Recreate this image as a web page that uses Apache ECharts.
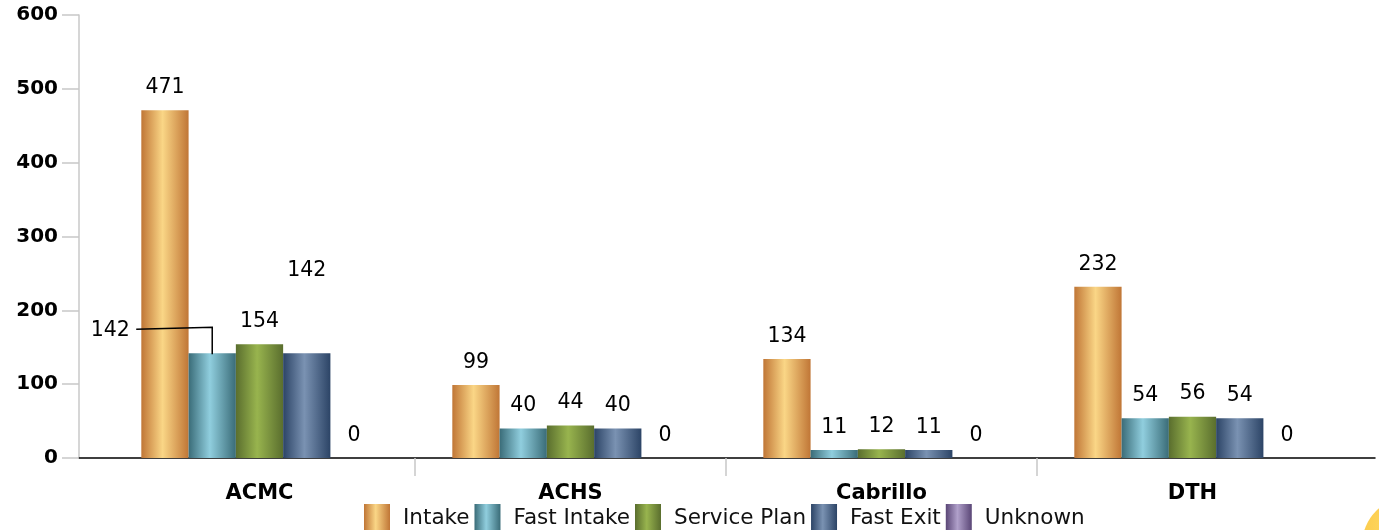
<!DOCTYPE html>
<html>
<head>
<meta charset="utf-8">
<script src="https://cdn.jsdelivr.net/npm/echarts@6/dist/echarts.min.js"></script>
<style>html,body{margin:0;padding:0;background:#fff;}#c{width:1379px;height:530px;}</style>
</head>
<body>
<div id="c"></div>
<script>
var categories = ['ACMC', 'ACHS', 'Cabrillo', 'DTH'];
var seriesNames = ['Intake', 'Fast Intake', 'Service Plan', 'Fast Exit', 'Unknown'];
var intake = [471, 99, 134, 232];
var fastIntake = [142, 40, 11, 54];
var servicePlan = [154, 44, 12, 56];
var fastExit = [142, 40, 11, 54];
var unknown = [0, 0, 0, 0];
var yTicks = [0, 100, 200, 300, 400, 500, 600];

function grad(edge, mid) {
  return new echarts.graphic.LinearGradient(0, 0, 1, 0, [
    {offset: 0, color: edge},
    {offset: 0.45, color: mid},
    {offset: 1, color: edge}
  ]);
}
var colors = [
  grad('#c07636', '#fad686'),
  grad('#3a6c78', '#90cede'),
  grad('#5a6e2e', '#98b44e'),
  grad('#2c4466', '#7a92b2'),
  grad('#5a4676', '#b0a0ca')
];
var dataSets = [intake, fastIntake, servicePlan, fastExit, unknown];
var font = 'DejaVu Sans';
var LABEL_SHIFT = -102;

var series = dataSets.map(function (d, i) {
  var s = {
    name: seriesNames[i],
    type: 'bar',
    xAxisIndex: 0,
    yAxisIndex: 0,
    data: d,
    barGap: '0%',
    barCategoryGap: '24%',
    itemStyle: {color: colors[i]},
    label: {
      show: true,
      position: 'top',
      distance: 12,
      color: '#000',
      fontFamily: font,
      fontSize: 20.5
    }
  };
  if (i === 1) {
    s.labelLayout = function (p) {
      if (p.dataIndex === 0) return {dx: LABEL_SHIFT, dy: 0};
      return {};
    };
  }
  if (i === 3) {
    s.labelLayout = function (p) {
      if (p.dataIndex === 0) return {dy: -60};
      return {};
    };
  }
  return s;
});

// elbow leader line for the moved ACMC "Fast Intake" label
series.push({
  type: 'custom',
  name: 'leader',
  xAxisIndex: 0,
  yAxisIndex: 0,
  z: 5,
  silent: true,
  data: [[0, fastIntake[0]]],
  renderItem: function (params, api) {
    var c = api.coord([api.value(0), api.value(1)]);
    var band = api.size([1, 0])[0];
    var bw = band * 0.76 / 5;
    var bx = c[0] - bw;
    var ly = c[1] - 12 - 13;
    var lx = bx + LABEL_SHIFT + 20 + 6;
    return {
      type: 'polyline',
      shape: {points: [[lx, ly + 1], [bx, ly - 1], [bx, c[1] + 1]]},
      style: {stroke: '#000', lineWidth: 1.5, fill: null}
    };
  }
});

var chart = echarts.init(document.getElementById('c'), null, {renderer: 'canvas'});
chart.setOption({
  animation: false,
  backgroundColor: '#fff',
  legend: {
    data: seriesNames,
    left: 364,
    top: 504,
    padding: 0,
    icon: 'rect',
    itemWidth: 26,
    itemHeight: 28,
    itemGap: 5,
    textStyle: {
      fontFamily: font,
      fontSize: 21.5,
      color: '#111',
      padding: [0, 0, 0, 8]
    }
  },
  grid: [
    {left: 104, right: 31, top: 15, bottom: 72},
    {left: 79, right: 4, top: 15, bottom: 72}
  ],
  xAxis: [
    {
      type: 'category', gridIndex: 0, data: categories,
      axisLine: {show: false},
      axisTick: {show: false},
      axisLabel: {margin: 25, fontFamily: font, fontWeight: 'bold', fontSize: 21, color: '#000'}
    },
    {
      type: 'value', gridIndex: 0, position: 'bottom', min: 0, max: 4, interval: 1,
      axisLine: {show: false},
      axisTick: {show: true, length: 18, lineStyle: {color: '#c8c8c8', width: 1.5}, customValues: [1, 2, 3]},
      axisLabel: {show: false},
      splitLine: {show: false}
    },
    {
      type: 'value', gridIndex: 1, min: 0, max: 1,
      axisLine: {show: true, lineStyle: {color: '#000', width: 1.5}},
      axisTick: {show: false}, axisLabel: {show: false}, splitLine: {show: false}
    }
  ],
  yAxis: [
    {
      type: 'value', gridIndex: 0, min: yTicks[0], max: yTicks[yTicks.length - 1], interval: 100,
      show: false
    },
    {
      type: 'value', gridIndex: 1, min: yTicks[0], max: yTicks[yTicks.length - 1], interval: 100,
      axisLine: {show: true, lineStyle: {color: '#c8c8c8', width: 1.5}},
      axisTick: {show: true, length: 17, lineStyle: {color: '#c8c8c8', width: 1.5}},
      axisLabel: {margin: 21, fontFamily: font, fontWeight: 'bold', fontSize: 20, color: '#000'},
      splitLine: {show: false}
    }
  ],
  graphic: [{
    type: 'circle', right: -79, bottom: -63,
    shape: {r: 48},
    style: {fill: new echarts.graphic.RadialGradient(0.3, 0.3, 0.8, [
      {offset: 0, color: '#ffd860'}, {offset: 1, color: '#f5b830'}
    ])}
  }],
  series: series
});
</script>
</body>
</html>
